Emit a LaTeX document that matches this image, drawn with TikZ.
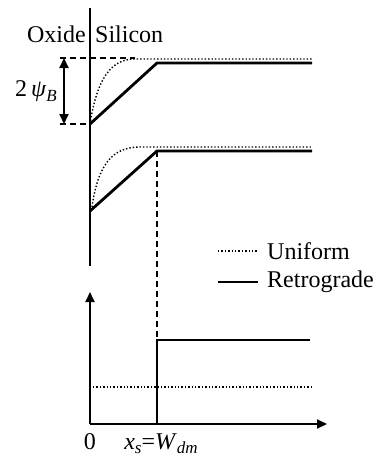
\documentclass[tikz,border=0pt]{standalone}
\usepackage{fontspec}
\setmainfont{Liberation Serif}
\usetikzlibrary{positioning, arrows.meta}

\newcommand{\sub}[1]{\raisebox{-0.2em}{\fontsize{17}{17}\selectfont\itshape #1}}

\begin{document}
\begin{tikzpicture}[
    x=1pt, y=-1pt,
    lbl/.style={font=\fontsize{24}{28}\selectfont, inner sep=0pt},
    axis/.style={line width=1.8pt},
    retro/.style={line width=2.8pt},
    unif/.style={line width=1.4pt, dotted},
    guide/.style={line width=1.6pt, dash pattern=on 6pt off 4pt},
    arrow/.style={-{Triangle[length=10pt,width=9pt]}, line width=1.8pt}
]
    \useasboundingbox (0,0) rectangle (378,459);

    % interface and labels
    \draw[axis] (90,8) -- (90,266);
    \node[lbl, anchor=east] (oxide) at (86,34) {Oxide};
    \node[lbl, anchor=west] (silicon) at (95,34) {Silicon};

    % upper band
    \coordinate (s1) at (90,124);
    \coordinate (k1) at (157,63);
    \draw[unif] (s1) .. controls (97,80) and (110,59) .. (135,59) -- (312,59);
    \draw[retro] (s1) -- (k1) -- (312,63);

    % 2 psi_B
    \draw[guide] (60,58) -- (135,58);
    \draw[guide] (60,124) -- (90,124);
    \draw[arrow, {Triangle[length=10pt,width=9pt]}-{Triangle[length=10pt,width=9pt]}] (64,58) -- (64,124);
    \node[lbl, anchor=east] (psi) at (57,91) {2\,\textit{ψ}\sub{B}};

    % lower band
    \coordinate (s2) at (90,211);
    \coordinate (k2) at (157,151);
    \draw[unif] (92,207) .. controls (98,165) and (112,147) .. (140,147) -- (312,147);
    \draw[retro] (s2) -- (k2) -- (312,151);
    \draw[guide] (k2) -- (157,340);

    % legend
    \draw[unif] (218,251) -- (257,251);
    \node[lbl, anchor=west] (uniform) at (267,251) {Uniform};
    \draw[retro] (218,282) -- (258,282);
    \node[lbl, anchor=west] (retrograde) at (267,282) {Retrograde};

    % doping profile
    \coordinate (o) at (90,424);
    \draw[arrow] (o) -- (90,292);
    \draw[arrow] (o) -- (327,424);
    \draw[unif] (93,387) -- (311,387);
    \draw[retro] (o) -- (157,424) -- (157,340) -- (310,340);
    \node[lbl, anchor=base] (zero) at (90,449) {0};
    \node[lbl, anchor=base] (xs) at (161,449) {\textit{x}\sub{s}=\textit{W}\sub{dm}};
\end{tikzpicture}
\end{document}
